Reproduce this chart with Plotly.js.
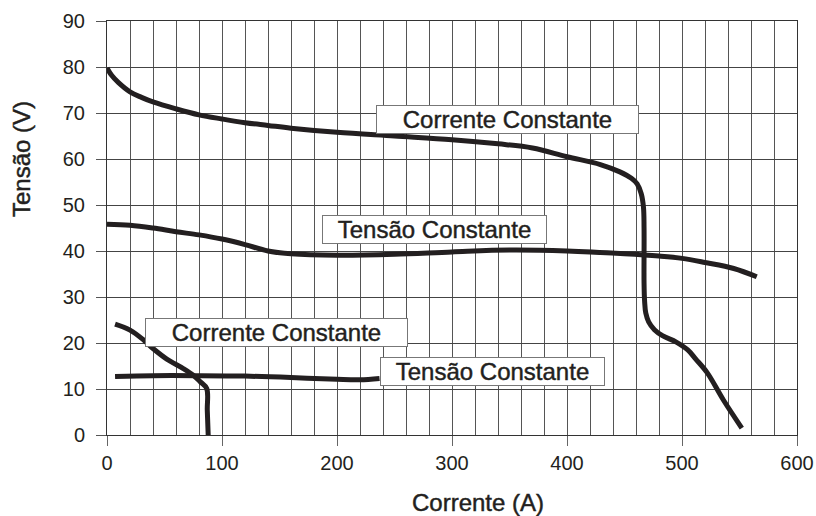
<!DOCTYPE html>
<html>
<head>
<meta charset="utf-8">
<script src="https://cdn.plot.ly/plotly-3.0.1.min.js"></script>
<style>
html,body{margin:0;padding:0;background:#fff;}
#chart{width:816px;height:516px;}
#chart .annotation-text{stroke:#231f20;stroke-width:0.45px;}
</style>
</head>
<body>
<div id="chart"></div>
<script>
// Curva superior - Corrente Constante
const cc1X = [0, 4, 10, 20, 30, 40, 60, 80, 100, 120, 140, 160, 200, 250, 300, 340, 370, 400, 429, 446, 456, 461, 464.5, 466.5, 467, 467, 467.5, 468.5, 471, 476, 483, 495, 505, 512, 522, 536, 552];
const cc1Y = [79.8, 78.2, 76.6, 74.6, 73.4, 72.4, 70.9, 69.6, 68.7, 67.9, 67.3, 66.7, 65.8, 65, 64.2, 63.3, 62.4, 60.5, 58.8, 57.2, 55.8, 54.6, 52.5, 49.5, 45, 33, 29, 26.5, 24.6, 22.9, 21.6, 20.2, 18.5, 16.5, 13.5, 7.6, 1.5];
// Curva superior - Tensão Constante
const tc1X = [0, 20, 40, 60, 80, 100, 120, 140, 160, 200, 250, 300, 350, 400, 450, 480, 500, 520, 545, 565];
const tc1Y = [45.8, 45.6, 45, 44.2, 43.5, 42.6, 41.4, 40, 39.4, 39.1, 39.3, 39.8, 40.2, 40, 39.4, 38.9, 38.4, 37.5, 36.2, 34.4];
// Curva inferior - Corrente Constante
const cc2X = [7, 20, 31.6, 40, 52, 66, 75, 81, 86.7, 87.2, 88];
const cc2Y = [24.1, 22.8, 20.7, 18.8, 16.5, 14.5, 13, 11.6, 10.1, 5.4, 0];
// Curva inferior - Tensão Constante
const tc2X = [7, 40, 80, 120, 160, 200, 220, 237];
const tc2Y = [12.7, 12.9, 12.9, 12.8, 12.5, 12.1, 12.0, 12.3];

const labels = ["Corrente Constante", "Tensão Constante", "Corrente Constante", "Tensão Constante"];
const labelX = [348, 285, 147.4, 335.2];
const labelY = [68.6, 44.6, 22.2, 13.7];
const labelW = [257, 219, 257, 219];

const xTitle = "Corrente (A)";
const yTitle = "Tensão (V)";

const lineStyle = {color: '#231f20', width: 5, shape: 'spline', smoothing: 1};
const traces = [
  {x: cc1X, y: cc1Y},
  {x: tc1X, y: tc1Y},
  {x: cc2X, y: cc2Y},
  {x: tc2X, y: tc2Y}
].map(t => Object.assign(t, {type: 'scatter', mode: 'lines', line: lineStyle, hoverinfo: 'skip'}));

const font = {family: 'Arial, "Liberation Sans", sans-serif', color: '#231f20'};

const annotations = labels.map((txt, i) => ({
  x: labelX[i], y: labelY[i], xref: 'x', yref: 'y',
  text: txt, showarrow: false,
  xanchor: 'center', yanchor: 'middle',
  font: Object.assign({}, font, {size: 24}),
  bgcolor: '#ffffff', bordercolor: '#777777', borderwidth: 1, borderpad: 2,
  width: labelW[i], height: 23, align: 'center'
}));
annotations.push({
  x: 0.5377, y: -0.163, xref: 'paper', yref: 'paper',
  text: xTitle, showarrow: false, xanchor: 'center', yanchor: 'middle',
  font: Object.assign({}, font, {size: 24})
});
annotations.push({
  x: -0.123, y: 0.667, xref: 'paper', yref: 'paper',
  text: yTitle, showarrow: false, xanchor: 'center', yanchor: 'middle',
  textangle: -90,
  font: Object.assign({}, font, {size: 24})
});

const layout = {
  width: 816, height: 516,
  margin: {l: 107, r: 19, t: 21, b: 81},
  paper_bgcolor: '#fff', plot_bgcolor: '#fff',
  showlegend: false,
  font: font,
  xaxis: {
    range: [0, 600], dtick: 100, tick0: 0,
    showgrid: true, gridcolor: '#555', gridwidth: 1,
    minor: {dtick: 20, showgrid: true, gridcolor: '#555', gridwidth: 1},
    ticks: 'outside', ticklen: 10, tickcolor: '#666', tickwidth: 1,
    showline: true, linecolor: '#333', linewidth: 1, mirror: true,
    zeroline: false,
    tickfont: Object.assign({}, font, {size: 20})
  },
  yaxis: {
    range: [0, 90], dtick: 10, tick0: 0,
    showgrid: true, gridcolor: '#444', gridwidth: 1,
    ticks: 'outside', ticklen: 10, tickcolor: '#555', tickwidth: 1,
    showline: true, linecolor: '#333', linewidth: 1, mirror: true,
    zeroline: false, ticklabelstandoff: 7,
    tickfont: Object.assign({}, font, {size: 20})
  },
  annotations: annotations
};

Plotly.newPlot('chart', traces, layout, {staticPlot: true, displayModeBar: false});
</script>
</body>
</html>
